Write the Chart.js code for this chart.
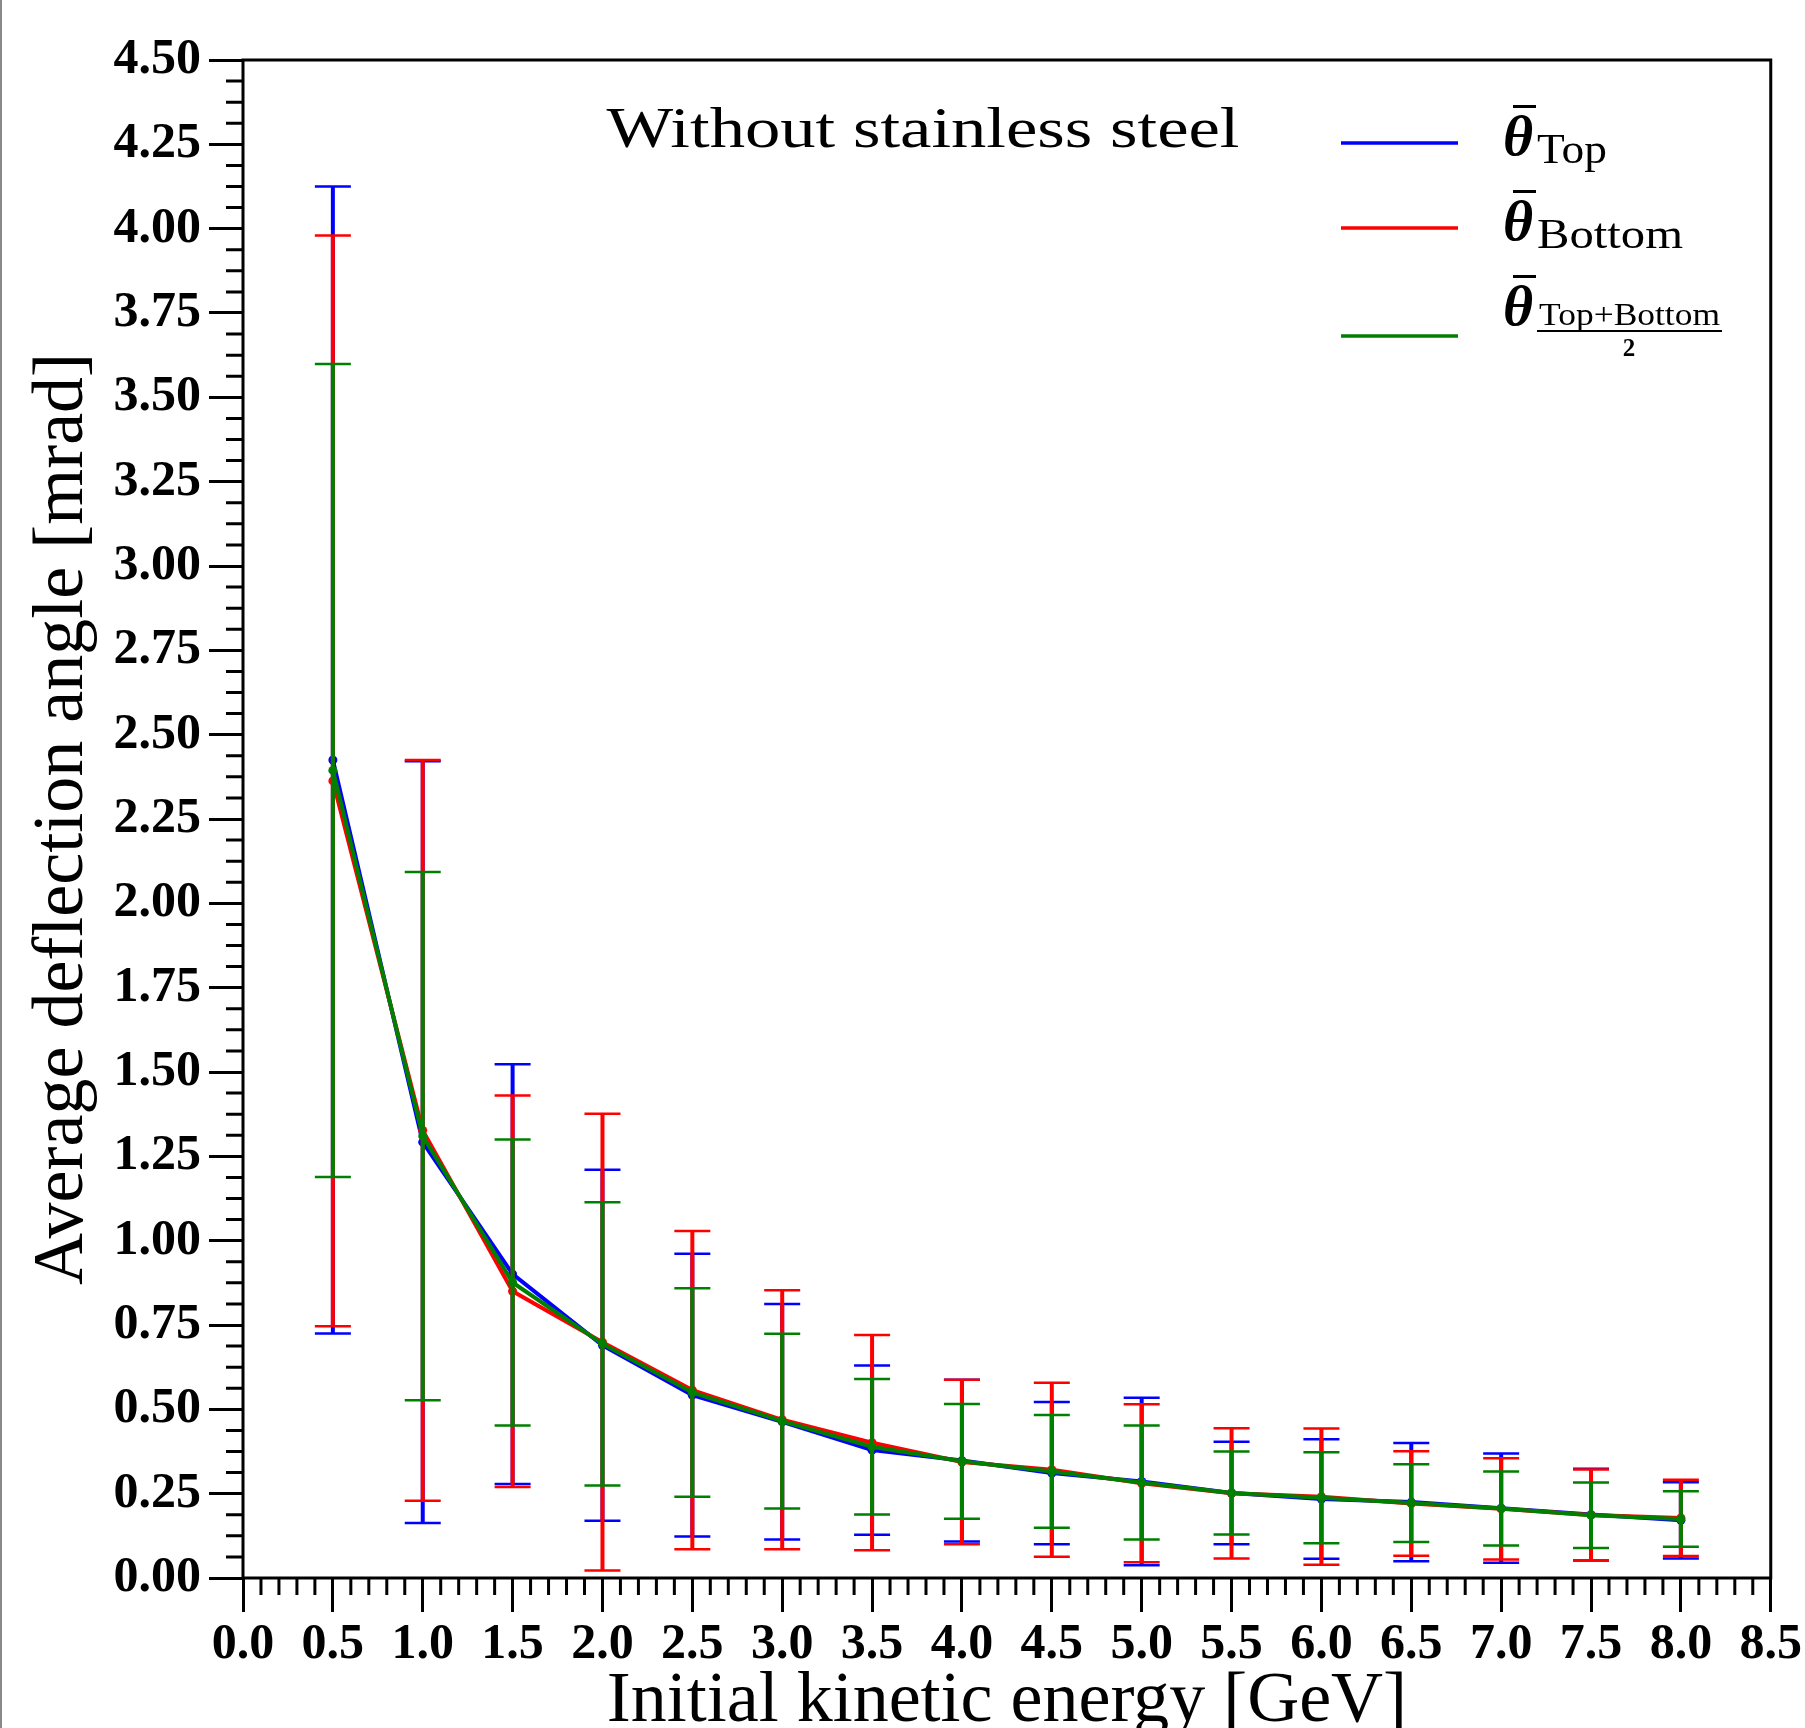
<!DOCTYPE html>
<html>
<head>
<meta charset="utf-8">
<script src="https://cdn.jsdelivr.net/npm/chart.js@4.4.1/dist/chart.umd.min.js"></script>
<style>
  html, body { margin: 0; padding: 0; background: #fff; }
  #wrap { width: 1805px; height: 1728px; }
</style>
</head>
<body>
<div id="wrap"><canvas id="deflectionChart" width="1805" height="1728"></canvas></div>
<script>
// energies in GeV
const energies = [0.5, 1.0, 1.5, 2.0, 2.5, 3.0, 3.5, 4.0, 4.5, 5.0, 5.5, 6.0, 6.5, 7.0, 7.5, 8.0];

// mean deflection angle [mrad] and its error (half length of the bar)
const topMean = [2.425, 1.292, 0.901, 0.690, 0.542, 0.463, 0.379, 0.348, 0.311, 0.286, 0.252, 0.234, 0.225, 0.207, 0.188, 0.171];
const topErr  = [1.700, 1.129, 0.622, 0.520, 0.419, 0.349, 0.251, 0.240, 0.211, 0.248, 0.152, 0.177, 0.175, 0.162, 0.136, 0.113];
const botMean = [2.363, 1.327, 0.850, 0.699, 0.557, 0.469, 0.401, 0.344, 0.321, 0.281, 0.251, 0.241, 0.221, 0.205, 0.187, 0.178];
const botErr  = [1.617, 1.098, 0.580, 0.677, 0.472, 0.384, 0.319, 0.244, 0.258, 0.234, 0.193, 0.202, 0.155, 0.150, 0.135, 0.113];
const avgMean = [2.394, 1.310, 0.876, 0.694, 0.550, 0.465, 0.389, 0.346, 0.316, 0.283, 0.252, 0.238, 0.222, 0.206, 0.186, 0.175];
const avgErr  = [1.205, 0.783, 0.424, 0.420, 0.309, 0.259, 0.201, 0.170, 0.167, 0.169, 0.123, 0.135, 0.115, 0.110, 0.097, 0.082];

const xTickValues = [0, 0.5, 1, 1.5, 2, 2.5, 3, 3.5, 4, 4.5, 5, 5.5, 6, 6.5, 7, 7.5, 8, 8.5];
const xTickLabels = ['0.0', '0.5', '1.0', '1.5', '2.0', '2.5', '3.0', '3.5', '4.0', '4.5', '5.0', '5.5', '6.0', '6.5', '7.0', '7.5', '8.0', '8.5'];
const yTickValues = [0, 0.25, 0.5, 0.75, 1, 1.25, 1.5, 1.75, 2, 2.25, 2.5, 2.75, 3, 3.25, 3.5, 3.75, 4, 4.25, 4.5];
const yTickLabels = ['0.00', '0.25', '0.50', '0.75', '1.00', '1.25', '1.50', '1.75', '2.00', '2.25', '2.50', '2.75', '3.00', '3.25', '3.50', '3.75', '4.00', '4.25', '4.50'];

const SERIF = "'Liberation Serif', 'DejaVu Serif', serif";
const BLUE = '#0000ff', RED = '#ff0000', GREEN = '#008000';

function toPoints(ys) {
    return energies.map((x, i) => ({ x: x, y: ys[i] }));
}

// draw text squeezed/stretched to a target width (CM fonts are wider than Times)
function fitText(ctx, text, x, y, targetW, align) {
    const w = ctx.measureText(text).width;
    ctx.save();
    ctx.translate(x, y);
    ctx.scale(targetW / w, 1);
    ctx.textAlign = align;
    ctx.fillText(text, 0, 0);
    ctx.restore();
}

// vertical error bars, drawn right after their own dataset so the z-order follows it
const errorBarPlugin = {
    id: 'errorBars',
    afterDatasetDraw(chart, args) {
        const ds = chart.data.datasets[args.index];
        if (!ds.errors) return;
        const yScale = chart.scales.y;
        const ctx = chart.ctx;
        ctx.save();
        ctx.strokeStyle = ds.borderColor;
        args.meta.data.forEach((pt, i) => {
            const v = ds.data[i].y, e = ds.errors[i];
            const yHi = yScale.getPixelForValue(v + e);
            const yLo = yScale.getPixelForValue(v - e);
            ctx.lineWidth = 4;
            ctx.beginPath();
            ctx.moveTo(pt.x, yHi);
            ctx.lineTo(pt.x, yLo);
            ctx.stroke();
            ctx.lineWidth = 2.5;
            ctx.beginPath();
            ctx.moveTo(pt.x - 18, yHi); ctx.lineTo(pt.x + 18, yHi);
            ctx.moveTo(pt.x - 18, yLo); ctx.lineTo(pt.x + 18, yLo);
            ctx.stroke();
        });
        ctx.restore();
    }
};

// frame, minor ticks, in-plot title and the math legend
const decorPlugin = {
    id: 'decor',
    afterDraw(chart) {
        const ctx = chart.ctx;
        const { left, right, top, bottom } = chart.chartArea;
        const xs = chart.scales.x, ys = chart.scales.y;
        ctx.save();

        // minor ticks
        ctx.strokeStyle = '#000';
        ctx.lineWidth = 3;
        ctx.beginPath();
        for (let k = 1; k < 85; k++) {
            if (k % 5 === 0) continue;
            const px = xs.getPixelForValue(k / 10);
            ctx.moveTo(px, bottom); ctx.lineTo(px, bottom + 17);
        }
        for (let k = 1; k < 72; k++) {
            if (k % 4 === 0) continue;
            const py = ys.getPixelForValue(k * 0.0625);
            ctx.moveTo(left, py); ctx.lineTo(left - 17, py);
        }
        ctx.stroke();

        // frame
        ctx.lineWidth = 3;
        ctx.strokeRect(left, top, right - left, bottom - top);

        // page edge line seen on the left of the picture
        ctx.fillStyle = '#888';
        ctx.fillRect(0, 0, 2, chart.height);

        // title inside the axes
        ctx.fillStyle = '#000';
        ctx.textBaseline = 'alphabetic';
        ctx.font = '58px ' + SERIF;
        fitText(ctx, 'Without stainless steel', 923, 147, 633, 'center');

        // legend
        const items = [
            { color: BLUE, lineY: 143, thetaY: 155, sub: 'Top', subY: 163, subW: 70 },
            { color: RED, lineY: 228, thetaY: 240, sub: 'Bottom', subY: 248, subW: 146 },
            { color: GREEN, lineY: 336, thetaY: 325, frac: true }
        ];
        items.forEach(it => {
            ctx.strokeStyle = it.color;
            ctx.lineWidth = 3.5;
            ctx.beginPath();
            ctx.moveTo(1341, it.lineY); ctx.lineTo(1458, it.lineY);
            ctx.stroke();

            ctx.fillStyle = '#000';
            ctx.font = 'italic bold 58px ' + SERIF;
            ctx.textAlign = 'left';
            ctx.fillText('θ', 1503, it.thetaY);
            ctx.fillRect(1513, it.thetaY - 50, 23, 3);

            if (it.frac) {
                ctx.font = '31px ' + SERIF;
                fitText(ctx, 'Top+Bottom', 1539, it.thetaY, 181, 'left');
                ctx.fillRect(1537, it.thetaY + 5, 185, 2);
                ctx.font = 'bold 25px ' + SERIF;
                ctx.textAlign = 'center';
                ctx.fillText('2', 1629, it.thetaY + 31);
            } else {
                ctx.font = '42px ' + SERIF;
                fitText(ctx, it.sub, 1537, it.subY, it.subW, 'left');
            }
        });
        ctx.restore();
    }
};

const tickFont = { family: SERIF, size: 50, weight: 'bold' };

new Chart(document.getElementById('deflectionChart').getContext('2d'), {
    type: 'line',
    data: {
        datasets: [
            { label: 'Top', data: toPoints(topMean), errors: topErr, borderColor: BLUE, backgroundColor: BLUE, order: 3 },
            { label: 'Bottom', data: toPoints(botMean), errors: botErr, borderColor: RED, backgroundColor: RED, order: 2 },
            { label: 'Top+Bottom / 2', data: toPoints(avgMean), errors: avgErr, borderColor: GREEN, backgroundColor: GREEN, order: 1 }
        ].map(d => Object.assign(d, {
            borderWidth: 4,
            pointRadius: 4.5,
            pointBorderWidth: 0,
            pointBackgroundColor: d.borderColor,
            tension: 0,
            clip: false
        }))
    },
    options: {
        responsive: false,
        animation: false,
        devicePixelRatio: 1,
        layout: { padding: { top: 60, right: 32, left: 0, bottom: 0 } },
        plugins: {
            legend: { display: false },
            title: { display: false },
            tooltip: { enabled: false }
        },
        scales: {
            x: {
                type: 'linear',
                min: 0,
                max: 8.5,
                afterBuildTicks: s => { s.ticks = xTickValues.map(v => ({ value: v })); },
                afterFit: s => { s.height = 150; },
                ticks: {
                    autoSkip: false,
                    maxRotation: 0,
                    color: '#000',
                    font: tickFont,
                    padding: 3,
                    callback: (v, i) => xTickLabels[i]
                },
                grid: { drawOnChartArea: false, tickLength: 34, tickWidth: 3, tickColor: '#000' },
                border: { display: false },
                title: {
                    display: true,
                    text: 'Initial kinetic energy [GeV]',
                    color: '#000',
                    font: { family: SERIF, size: 72, lineHeight: 1 },
                    padding: { top: 0, bottom: -10 }
                }
            },
            y: {
                type: 'linear',
                min: 0,
                max: 4.5,
                afterBuildTicks: s => { s.ticks = yTickValues.map(v => ({ value: v })); },
                afterFit: s => { s.width = 243; },
                ticks: {
                    autoSkip: false,
                    color: '#000',
                    font: tickFont,
                    padding: 8,
                    callback: (v, i) => yTickLabels[i]
                },
                grid: { drawOnChartArea: false, tickLength: 34, tickWidth: 3, tickColor: '#000' },
                border: { display: false },
                title: {
                    display: true,
                    text: 'Average deflection angle [mrad]',
                    color: '#000',
                    font: { family: SERIF, size: 72, lineHeight: 1 },
                    padding: { top: 27, bottom: 0 }
                }
            }
        }
    },
    plugins: [errorBarPlugin, decorPlugin]
});
</script>
</body>
</html>
